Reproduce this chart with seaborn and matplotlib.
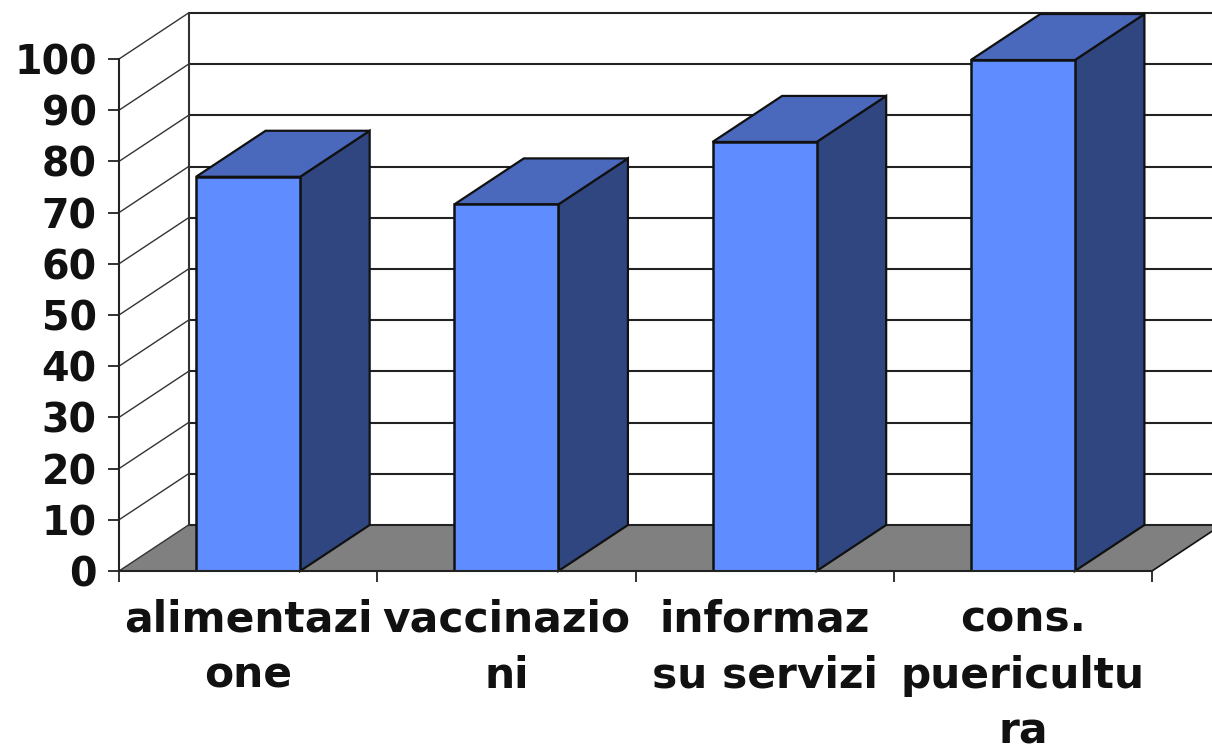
import matplotlib
matplotlib.use("Agg")
import matplotlib.pyplot as plt
import seaborn as sns
from matplotlib.patches import Polygon

categories = ["alimentazi\none", "vaccinazio\nni", "informaz\nsu servizi", "cons.\npuericultu\nra"]
values = [77, 71.6, 83.8, 99.8]
y_ticks = list(range(0, 101, 10))

W, H = 1212, 751
FRONT, TOP, SIDE, FLOOR = "#5F8DFF", "#4A69BD", "#2F4680", "#808080"
INK = "#111111"

sns.set_theme(style="white")
plt.rcParams["font.family"] = ["DejaVu Sans"]
plt.rcParams["font.weight"] = "bold"

fig = plt.figure(figsize=(W / 100, H / 100), dpi=100, facecolor="white")
ax = fig.add_axes([119 / W, 1 - 571 / H, (1152 - 119) / W, (571 - 59) / H])
ax.patch.set_alpha(0)

data = {"cat": categories, "val": values}
sns.barplot(data=data, x="cat", y="val", width=0.403, color=FRONT, saturation=1,
            edgecolor=INK, linewidth=1.8, ax=ax, zorder=5)
bars = list(ax.patches)

ax.set_xlim(-0.5, 3.5)
ax.set_ylim(0, 100)
ax.set_xlabel("")
ax.set_ylabel("")

# depth of the oblique projection, in data units
dx = 69.5 / ((1152 - 119) / 4)
dy = 46 / ((571 - 59) / 100)
x0, x1 = ax.get_xlim()
far = x1 + 2 * dx

# floor
ax.add_patch(Polygon([(x0, 0), (x1, 0), (x1 + dx, dy), (x0 + dx, dy)], closed=True,
                     facecolor=FLOOR, edgecolor="none", clip_on=False, zorder=1))
ax.plot([x1, x1 + dx], [0, dy], color=INK, lw=1.2, clip_on=False, zorder=1.5)

# walls and gridlines
for v in y_ticks:
    ax.plot([x0, x0 + dx], [v, v + dy], color="#333333", lw=1.0, clip_on=False, zorder=2)
    ax.plot([x0 + dx, far], [v + dy, v + dy], color="#222222", lw=1.5, clip_on=False, zorder=2)
ax.plot([x0 + dx, x0 + dx], [dy, y_ticks[-1] + dy], color="#333333", lw=1.5, clip_on=False, zorder=2)

# side and top faces of each bar
for patch in bars:
    l, w, h = patch.get_x(), patch.get_width(), patch.get_height()
    r = l + w
    ax.add_patch(Polygon([(r, 0), (r + dx, dy), (r + dx, h + dy), (r, h)], closed=True,
                         facecolor=SIDE, edgecolor=INK, lw=1.6, clip_on=False, zorder=4))
    ax.add_patch(Polygon([(l, h), (r, h), (r + dx, h + dy), (l + dx, h + dy)], closed=True,
                         facecolor=TOP, edgecolor=INK, lw=1.6, clip_on=False, zorder=4))

for s in ("top", "right"):
    ax.spines[s].set_visible(False)
for s in ("left", "bottom"):
    ax.spines[s].set_visible(True)
    ax.spines[s].set_color("#222222")
    ax.spines[s].set_linewidth(1.5)
    ax.spines[s].set_zorder(6)

ax.set_yticks(y_ticks)
ax.tick_params(axis="y", left=True, length=8, width=1.3, color="#222222", pad=8,
               labelsize=28.5, labelcolor=INK)
ax.set_xticks(range(len(categories)))
ax.set_xticklabels(categories, fontsize=30.5, fontweight="bold", color=INK, linespacing=1.42)
ax.tick_params(axis="x", which="major", bottom=False, pad=14)
ax.set_xticks([x0 + i for i in range(len(categories) + 1)], minor=True)
ax.tick_params(axis="x", which="minor", bottom=True, length=8, width=1.3, color="#222222")
for t in ax.get_yticklabels():
    t.set_fontweight("bold")

fig.savefig("out.png", dpi=100)
